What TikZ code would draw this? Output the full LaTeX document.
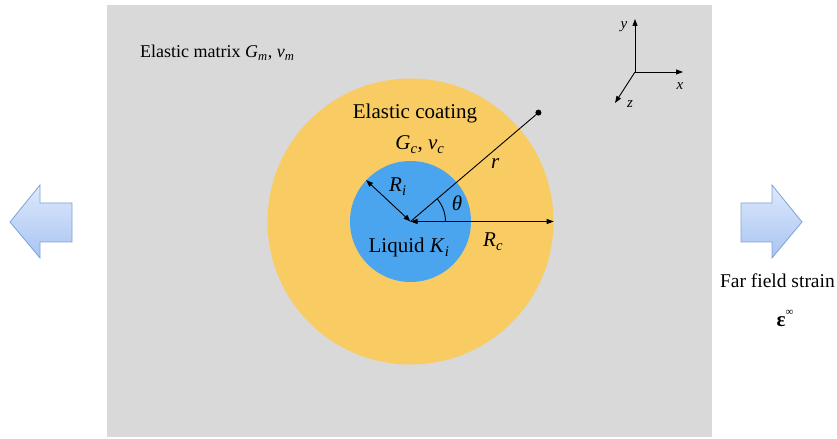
\documentclass[tikz,border=0pt]{standalone}
\usepackage{fontspec}
\setmainfont{Liberation Serif}
\usetikzlibrary{arrows.meta,calc}
\definecolor{matgray}{HTML}{D9D9D9}
\definecolor{coatc}{HTML}{F8CC62}
\definecolor{liqc}{HTML}{4BA4EE}
\definecolor{barrowtop}{HTML}{DEE9FC}
\definecolor{barrowbot}{HTML}{A7C4F2}
\definecolor{barrowline}{HTML}{7EA3D6}
\newcommand{\sbs}[1]{\textsubscript{\itshape #1}}
\tikzset{
  x=1bp, y=-1bp,
  lbl/.style={inner sep=0pt, font=\fontsize{21bp}{24bp}\selectfont},
  lblsmall/.style={inner sep=0pt, font=\fontsize{18bp}{21bp}\selectfont},
  axlbl/.style={inner sep=0pt, font=\fontsize{15bp}{18bp}\selectfont\itshape},
  dimarrow/.style={line width=0.9bp, {Triangle[length=7bp,width=5bp]}-{Triangle[length=7bp,width=5bp]}},
  axarrow/.style={line width=0.9bp, -{Triangle[length=7bp,width=5bp]}},
  blockarrow/.style={draw=barrowline, line width=0.8bp, top color=barrowtop, bottom color=barrowbot},
}
\begin{document}
\begin{tikzpicture}
\useasboundingbox (0,0) rectangle (837,439);
% matrix
\fill[matgray] (107,5) rectangle (712,437);
% coating and liquid
\coordinate (c) at (410.5,221.5);
\node[circle, fill=coatc, minimum size=286bp, inner sep=0pt] (outer) at (c) {};
\node[circle, fill=liqc, minimum size=121bp, inner sep=0pt] (inner) at (c) {};
% r line and dot
\node[circle, fill=black, minimum size=6bp, inner sep=0pt] (dot) at ($(c)+(168*cos 40.4, -168*sin 40.4)$) {};
\draw[line width=0.9bp] (c) -- (dot.center);
% dimensions
\draw[dimarrow] (c) -- (inner.137);
\draw[dimarrow] (c) -- (outer.0);
% angle arc
\draw[line width=0.9bp] ($(c)+(35,0)$) arc[start angle=0, end angle=-40.4, radius=35];
% labels
\node[lblsmall, anchor=base west] (mlbl) at (140,58) {Elastic matrix \textit{G}\sbs{m}, \textit{ν}\sbs{m}};
\node[lbl, anchor=base] (clbl) at (415,119) {Elastic coating};
\node[lbl, anchor=base] (cprop) at (420,150) {\textit{G}\sbs{c}, \textit{ν}\sbs{c}};
\node[lbl, anchor=base west] (rilbl) at (389,192) {\textit{R}\sbs{i}};
\node[lbl, anchor=base] (thlbl) at (457,211) {\textit{θ}};
\node[lbl, anchor=base] (liqlbl) at (409,253) {Liquid \textit{K}\sbs{i}};
\node[lbl, anchor=base west] (rclbl) at (483,247) {\textit{R}\sbs{c}};
\node[lbl, anchor=base west] (rlbl) at (491,169) {\textit{r}};
\node[inner sep=0pt, font=\fontsize{19.5bp}{22bp}\selectfont, anchor=base east] (fflbl) at (835,288) {Far field strain};
\node[lbl, anchor=base] (epslbl) at (785,327) {\textbf{ε}\raisebox{1.2ex}{\fontsize{11bp}{12bp}\selectfont∞}};
% axes
\coordinate (o) at (635,72);
\coordinate (ax) at (683,72);
\coordinate (ay) at (635,19);
\coordinate (az) at (615,103);
\draw[axarrow] (o) -- (ax);
\draw[axarrow] (o) -- (ay);
\draw[axarrow] (o) -- (az);
\node[axlbl] (xl) at (680,86) {x};
\node[axlbl] (yl) at (624,27) {y};
\node[axlbl] (zl) at (630,104) {z};
% block arrows
\path[blockarrow] (10,222) -- (40,185) -- (40,203) -- (72,203) -- (72,242) -- (40,242) -- (40,258) -- cycle;
\path[blockarrow] (802,222) -- (772,185) -- (772,203) -- (741,203) -- (741,242) -- (772,242) -- (772,258) -- cycle;
\end{tikzpicture}
\end{document}
